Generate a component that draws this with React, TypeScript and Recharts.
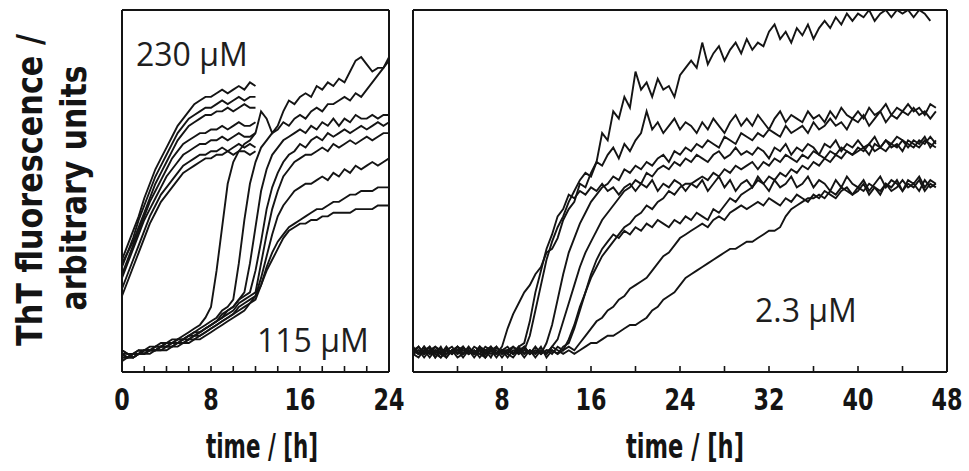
import React from 'react';
import { LineChart, Line, XAxis, YAxis } from 'recharts';

// sampling step of the traces, hours
const STEP_H = 0.5;

const LEFT_TICKS = [0, 2, 4, 6, 8, 10, 12, 14, 16, 18, 20, 22, 24];
const LEFT_LABELS = [0, 8, 16, 24];
const RIGHT_TICKS = [0, 4, 8, 12, 16, 20, 24, 28, 32, 36, 40, 44, 48];
const RIGHT_LABELS = [8, 16, 24, 32, 40, 48];

/* 230 µM traces, t = 0 .. 12 h */
const g230a = [31, 35, 39, 43, 48, 52, 56, 59, 62, 65, 68, 70, 72, 74, 75, 76, 76, 77, 78, 77, 78, 79, 78, 80, 79];
const g230b = [29, 33, 37, 42, 46, 50, 54, 57, 60, 63, 66, 68, 70, 71, 72, 73, 73, 74, 75, 74, 75, 76, 75, 76, 76];
const g230c = [30, 33, 36, 40, 44, 48, 52, 55, 58, 61, 64, 66, 68, 69, 70, 71, 71, 72, 72, 73, 72, 73, 74, 73, 73];
const g230d = [27, 31, 35, 39, 43, 47, 50, 53, 56, 59, 61, 63, 64, 65, 66, 66, 67, 67, 68, 67, 68, 69, 68, 68, 69];
const g230e = [26, 30, 34, 38, 42, 45, 48, 51, 54, 56, 58, 60, 61, 62, 63, 63, 64, 64, 65, 64, 65, 66, 65, 65, 66];
const g230f = [23, 27, 31, 35, 39, 43, 46, 49, 51, 53, 55, 57, 58, 59, 60, 60, 61, 61, 62, 61, 62, 63, 62, 63, 62];
const g230g = [21, 25, 29, 33, 37, 41, 44, 47, 49, 51, 53, 55, 56, 57, 58, 59, 59, 60, 60, 61, 60, 61, 61, 60, 61];

/* 115 µM traces, t = 0 .. 24 h */
const l115a = [6, 5, 5, 6, 6, 7, 7, 8, 8, 9, 9, 10, 11, 12, 13, 15, 18, 28, 40, 52, 58, 61, 63, 64, 66, 72, 70, 66, 68, 72, 75, 74, 76, 77, 76, 79, 78, 80, 79, 81, 80, 83, 86, 87, 85, 83, 84, 84, 86];
const l115b = [5, 4, 5, 5, 6, 6, 7, 7, 8, 8, 9, 9, 10, 11, 12, 13, 14, 15, 17, 18, 20, 30, 42, 52, 58, 62, 64, 66, 67, 69, 68, 70, 71, 70, 72, 73, 72, 74, 74, 75, 76, 75, 77, 76, 78, 80, 82, 84, 87];
const l115c = [4, 4, 5, 5, 5, 6, 6, 7, 7, 8, 8, 9, 9, 10, 11, 12, 13, 14, 15, 17, 18, 20, 22, 30, 40, 50, 56, 60, 62, 64, 65, 66, 67, 66, 68, 67, 69, 68, 70, 68, 70, 69, 71, 70, 70, 71, 70, 71, 71];
const l115d = [5, 5, 4, 5, 6, 6, 6, 7, 7, 8, 8, 9, 10, 10, 11, 12, 13, 14, 16, 17, 18, 20, 21, 22, 28, 36, 45, 51, 55, 58, 60, 61, 63, 62, 64, 65, 64, 66, 65, 66, 67, 66, 67, 68, 67, 68, 69, 68, 69];
const l115e = [6, 5, 5, 6, 5, 6, 7, 7, 8, 8, 9, 9, 10, 11, 11, 12, 13, 14, 15, 16, 17, 19, 20, 21, 22, 30, 38, 45, 50, 54, 56, 58, 59, 60, 60, 61, 62, 61, 63, 62, 63, 64, 63, 64, 65, 64, 65, 66, 66];
const l115f = [4, 4, 5, 5, 6, 6, 6, 7, 7, 7, 8, 8, 9, 10, 10, 11, 12, 13, 14, 15, 16, 18, 19, 20, 21, 26, 32, 38, 43, 46, 48, 50, 51, 52, 52, 53, 54, 53, 55, 54, 56, 55, 57, 56, 57, 58, 57, 58, 59];
const l115g = [5, 4, 4, 5, 5, 6, 6, 6, 7, 7, 8, 8, 9, 9, 10, 11, 12, 13, 14, 15, 16, 17, 18, 19, 20, 24, 29, 33, 36, 38, 40, 41, 42, 43, 44, 45, 45, 46, 47, 47, 48, 49, 49, 50, 50, 50, 51, 51, 51];
const l115h = [3, 4, 4, 5, 5, 5, 6, 6, 6, 7, 7, 8, 8, 9, 9, 10, 11, 12, 13, 14, 15, 16, 17, 19, 21, 24, 28, 31, 34, 37, 39, 40, 41, 41, 42, 42, 43, 43, 44, 44, 44, 44, 45, 45, 45, 45, 46, 46, 46];

/* 2.3 µM traces, t = 0 .. 48 h */
const r23a = [
  6, 5, 7, 5, 6, 4, 6, 7, 5, 6,
  5, 7, 6, 4, 6, 5, 7, 12, 16, 19,
  22, 24, 27, 29, 33, 34, 37, 42, 45, 47,
  52, 51, 55, 58, 66, 64, 72, 70, 76, 73,
  83, 78, 80, 76, 81, 78, 79, 76, 82, 84,
  86, 84, 91, 85, 88, 90, 86, 89, 91, 88,
  92, 89, 91, 90, 94, 96, 92, 94, 91, 95,
  93, 96, 92, 95, 97, 95, 98, 96, 99, 97,
  99, 98, 100, 97, 99, 100, 98, 100, 99, 100,
  98, 100, 99, 97, null, null, null];
const r23b = [
  5, 6, 4, 6, 7, 5, 6, 5, 7, 6,
  6, 5, 7, 6, 5, 6, 4, 6, 5, 7,
  8, 14, 22, 28, 34, 38, 43, 45, 49, 48,
  50, 49, 51, 50, 52, 50, 51, 49, 51, 52,
  50, 52, 51, 53, 50, 52, 51, 53, 52, 50,
  52, 51, 53, 50, 52, 54, 51, 53, 50, 52,
  53, 51, 54, 52, 50, 53, 51, 52, 54, 51,
  52, 54, 51, 53, 52, 50, 53, 51, 54, 52,
  51, 53, 50, 52, 54, 51, 53, 52, 50, 53,
  52, 54, 51, 53, 52, null, null];
const r23c = [
  6, 7, 5, 6, 5, 7, 4, 6, 6, 5,
  7, 5, 6, 6, 4, 7, 5, 6, 7, 5,
  6, 10, 17, 24, 31, 36, 40, 43, 47, 50,
  53, 55, 54, 58, 57, 60, 62, 59, 63, 61,
  64, 66, 72, 67, 69, 66, 68, 70, 67, 69,
  68, 66, 69, 67, 70, 68, 66, 69, 71, 68,
  70, 68, 71, 69, 67, 70, 72, 69, 71, 70,
  69, 72, 70, 71, 69, 72, 70, 73, 71, 70,
  72, 70, 73, 71, 72, 74, 71, 73, 72, 74,
  72, 73, 71, 74, 73, null, null];
const r23d = [
  5, 4, 6, 5, 7, 6, 5, 6, 4, 5,
  6, 5, 7, 5, 6, 5, 6, 4, 6, 5,
  7, 5, 6, 5, 8, 13, 20, 27, 33, 37,
  41, 44, 47, 49, 51, 52, 54, 53, 56, 55,
  57, 56, 58, 57, 59, 60, 58, 61, 60, 62,
  61, 63, 62, 64, 63, 62, 65, 64, 63, 66,
  65, 64, 66, 65, 67, 66, 65, 68, 66, 67,
  68, 66, 69, 67, 68, 70, 68, 69, 67, 70,
  69, 71, 68, 70, 72, 69, 71, 70, 72, 71,
  73, 71, 72, 70, 72, null, null];
const r23e = [
  7, 5, 6, 4, 6, 5, 7, 5, 6, 4,
  6, 5, 5, 7, 6, 4, 6, 5, 7, 6,
  5, 6, 4, 6, 5, 7, 9, 14, 19, 24,
  29, 33, 36, 39, 42, 44, 46, 48, 50, 51,
  53, 52, 55, 54, 56, 57, 56, 58, 57, 59,
  58, 60, 59, 58, 60, 61, 59, 60, 62, 60,
  61, 60, 62, 61, 59, 62, 61, 63, 60, 62,
  61, 63, 62, 60, 63, 62, 64, 61, 63, 62,
  64, 62, 63, 65, 62, 64, 63, 65, 64, 62,
  64, 63, 65, 62, 64, null, null];
const r23f = [
  5, 6, 5, 7, 4, 6, 5, 6, 5, 7,
  5, 6, 4, 6, 7, 5, 6, 5, 4, 6,
  6, 5, 7, 5, 6, 5, 7, 6, 9, 13,
  18, 22, 26, 29, 32, 34, 36, 38, 40, 41,
  43, 44, 46, 45, 47, 48, 50, 49, 51, 52,
  52, 53, 54, 53, 55, 54, 56, 55, 57, 56,
  57, 58, 56, 58, 57, 59, 58, 60, 59, 58,
  60, 59, 61, 60, 59, 61, 60, 62, 61, 60,
  62, 61, 63, 61, 62, 64, 62, 63, 61, 64,
  63, 62, 64, 63, 62, null, null];
const r23g = [
  6, 5, 7, 5, 6, 5, 4, 6, 7, 5,
  6, 4, 6, 5, 7, 5, 6, 6, 5, 7,
  5, 6, 5, 7, 4, 6, 5, 6, 7, 6,
  8, 10, 12, 14, 15, 17, 18, 20, 21, 23,
  24, 25, 26, 28, 30, 32, 33, 35, 37, 38,
  39, 40, 41, 40, 42, 43, 42, 44, 45, 46,
  45, 46, 47, 46, 48, 47, 46, 48, 47, 49,
  48, 47, 49, 48, 50, 49, 48, 50, 51, 49,
  50, 52, 49, 51, 50, 52, 51, 53, 50, 52,
  51, 53, 50, 52, 51, null, null];
const r23h = [
  5, 7, 5, 6, 4, 6, 6, 5, 7, 5,
  6, 5, 7, 4, 6, 5, 6, 7, 5, 6,
  4, 6, 5, 6, 5, 7, 6, 5, 6, 5,
  6, 7, 8, 8, 9, 10, 10, 11, 12, 13,
  13, 14, 15, 17, 18, 20, 21, 22, 24, 26,
  27, 28, 29, 30, 31, 32, 33, 34, 34, 35,
  36, 36, 37, 38, 39, 39, 40, 43, 45, 46,
  47, 48, 48, 49, 48, 50, 49, 51, 50, 49,
  51, 50, 52, 51, 49, 52, 50, 51, 53, 51,
  52, 50, 53, 51, 52, null, null];
const r23i = [
  6, 5, 6, 7, 5, 4, 6, 5, 6, 7,
  5, 6, 5, 4, 6, 7, 5, 6, 5, 6,
  7, 5, 6, 5, 6, 6, 5, 7, 8, 12,
  17, 22, 27, 31, 34, 36, 38, 37, 39, 38,
  40, 39, 41, 40, 42, 41, 40, 42, 41, 43,
  42, 44, 43, 42, 45, 44, 46, 48, 47, 49,
  50, 51, 53, 52, 54, 53, 55, 54, 56, 55,
  57, 56, 58, 57, 59, 58, 60, 59, 61, 60,
  61, 62, 60, 63, 62, 61, 63, 62, 64, 63,
  62, 64, 63, 65, 63, null, null];

const LEFT_SERIES = [g230a, g230b, g230c, g230d, g230e, g230f, g230g, l115a, l115b, l115c, l115d, l115e, l115f, l115g, l115h];
const RIGHT_SERIES = [r23a, r23b, r23c, r23d, r23e, r23f, r23g, r23h, r23i];

const buildRows = (series: (number | null)[][], n: number) =>
  Array.from({ length: n }, (_, i) => {
    const row: Record<string, number | null> = { t: i * STEP_H };
    series.forEach((s, k) => { row['s' + k] = s[i] ?? null; });
    return row;
  });

const leftRows = buildRows(LEFT_SERIES, 49);
const rightRows = buildRows(RIGHT_SERIES, 97);

const INK = '#141414';
const BOLD_FONT = "'DejaVu Sans Condensed', 'DejaVu Sans', sans-serif";

// inward tick + big bold label on the majors
const makeTick = (labels: number[]) => (props: any) => {
  const { x, y, payload } = props;
  const major = labels.includes(payload.value);
  const txt = String(payload.value);
  return (
    <g>
      <line x1={x} x2={x} y1={y} y2={y - 6} stroke={INK} strokeWidth={1.6} />
      {major && (
        <text x={x} y={y + 38} textAnchor="middle" fill={INK}
          textLength={txt.length * 15.5} lengthAdjust="spacingAndGlyphs"
          style={{ fontFamily: BOLD_FONT, fontWeight: 700, fontSize: 30 }}>
          {txt}
        </text>
      )}
    </g>
  );
};

const Panel = ({ rows, count, ticks, labels, max, width, margin }: any) => (
  <LineChart width={width} height={471} data={rows} margin={margin}>
    <XAxis dataKey="t" type="number" domain={[0, max]} ticks={ticks} interval={0}
      height={1} tickSize={0} tickMargin={0} tick={makeTick(labels)} tickLine={false}
      axisLine={{ stroke: INK, strokeWidth: 2 }} />
    <XAxis xAxisId="top" orientation="top" dataKey="t" type="number" domain={[0, max]}
      height={1} tick={false} tickLine={false} axisLine={{ stroke: INK, strokeWidth: 2 }} />
    <YAxis type="number" domain={[0, 100]} allowDataOverflow width={1} tick={false}
      tickLine={false} axisLine={{ stroke: INK, strokeWidth: 2 }} />
    <YAxis yAxisId="r" orientation="right" type="number" domain={[0, 100]} width={1}
      tick={false} tickLine={false} axisLine={{ stroke: INK, strokeWidth: 2 }} />
    {Array.from({ length: count }, (_, k) => (
      <Line key={k} dataKey={'s' + k} type="linear" stroke={INK} strokeWidth={1.9}
        dot={false} isAnimationActive={false} connectNulls={false} />
    ))}
  </LineChart>
);

const note = { position: 'absolute' as const, fontFamily: "'Open Sans', sans-serif", fontSize: 32, color: '#1e1e1e', lineHeight: 1, whiteSpace: 'nowrap' as const };
const axisTitle = { fontFamily: BOLD_FONT, fontWeight: 700, fontSize: 34, fill: INK };

export default function App() {
  return (
    <div style={{ position: 'absolute', left: 0, top: 0, width: 969, height: 471, background: '#fff', overflow: 'hidden' }}>
      <div style={{ position: 'absolute', left: 400, top: 0 }}>
        <Panel rows={rightRows} count={RIGHT_SERIES.length} ticks={RIGHT_TICKS} labels={RIGHT_LABELS}
          max={48} width={600} margin={{ top: 9, right: 52, bottom: 98, left: 12 }} />
      </div>
      <div style={{ position: 'absolute', left: 0, top: 0 }}>
        <Panel rows={leftRows} count={LEFT_SERIES.length} ticks={LEFT_TICKS} labels={LEFT_LABELS}
          max={24} width={440} margin={{ top: 9, right: 50, bottom: 98, left: 121 }} />
      </div>

      <svg width={120} height={400} style={{ position: 'absolute', left: 0, top: 0, pointerEvents: 'none' }}>
        <text transform="translate(42,190) rotate(-90)" textAnchor="middle" textLength={312}
          lengthAdjust="spacingAndGlyphs" style={{ ...axisTitle, fontSize: 36 }}>ThT fluorescence /</text>
        <text transform="translate(86,188) rotate(-90)" textAnchor="middle" textLength={245}
          lengthAdjust="spacingAndGlyphs" style={{ ...axisTitle, fontSize: 36 }}>arbitrary units</text>
      </svg>
      <svg width={969} height={60} style={{ position: 'absolute', left: 0, top: 411, pointerEvents: 'none' }}>
        <text x={262} y={47} textAnchor="middle" textLength={112} lengthAdjust="spacingAndGlyphs" style={axisTitle}>time / [h]</text>
        <text x={685} y={47} textAnchor="middle" textLength={118} lengthAdjust="spacingAndGlyphs" style={axisTitle}>time / [h]</text>
      </svg>

      <div style={{ ...note, left: 136, top: 38 }}>230 µM</div>
      <div style={{ ...note, left: 257, top: 324 }}>115 µM</div>
      <div style={{ ...note, left: 755, top: 294 }}>2.3 µM</div>
    </div>
  );
}
